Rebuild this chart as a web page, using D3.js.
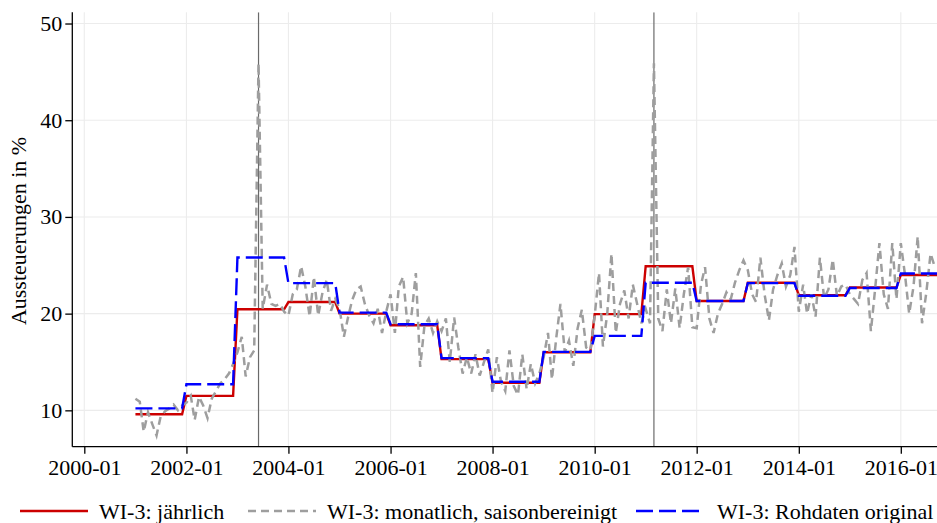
<!DOCTYPE html>
<html><head><meta charset="utf-8">
<script src="https://cdn.jsdelivr.net/npm/d3@7"></script>
<style>
body{margin:0;background:#fff}
svg{display:block}
</style>
</head><body>
<svg id="c" width="937" height="523"></svg>
<script>
// ---------- data ----------
const years = [2001,2002,2003,2004,2005,2006,2007,2008,2009,2010,2011,2012,2013,2014,2015,2016];
const annualValues = [9.6,11.5,20.45,21.2,20.0,18.8,15.3,12.85,16.0,19.95,24.9,21.3,23.2,21.9,22.7,24.0];
const rawValues    = [10.2,12.7,25.8,23.15,20.1,18.9,15.4,12.95,16.05,17.7,23.2,21.3,23.15,21.85,22.65,24.15];
const monthlyStart = [2001, 0]; // January 2001
const monthlyValues = [
  // 2001
  11.2,10.9,7.8,9.8,8.6,7.4,9.4,9.9,10.2,10.6,10.0,10.5,
  // 2002
  10.8,11.5,9.0,11.4,10.5,9.2,11.2,12.0,12.8,13.2,13.8,14.8,
  // 2003
  16.0,17.6,13.5,15.5,16.2,45.9,20.5,23.0,21.0,20.8,21.0,20.2,
  // 2004
  19.8,22.0,22.5,24.9,22.8,19.7,23.8,19.8,22.2,23.5,20.3,21.5,
  // 2005
  20.5,17.6,19.5,21.4,22.5,22.8,21.0,19.8,19.0,20.5,18.0,20.2,
  // 2006
  22.0,18.0,22.8,23.8,19.0,20.0,24.2,14.5,18.8,19.5,18.0,19.2,
  // 2007
  18.2,19.5,15.0,19.6,16.5,13.8,15.5,13.8,15.8,13.6,15.0,16.3,
  // 2008
  11.8,15.5,13.0,12.0,16.2,12.5,11.6,15.8,12.2,14.8,12.8,13.8,
  // 2009
  15.5,18.0,13.2,17.5,21.0,16.0,17.2,14.6,18.5,20.4,16.5,16.2,
  // 2010
  19.8,24.2,16.6,20.0,26.2,18.0,21.0,22.4,19.5,23.0,21.0,19.0,
  // 2011
  20.5,19.0,45.9,19.5,18.2,22.5,19.0,22.6,18.5,22.0,24.8,18.6,
  // 2012
  18.5,23.0,24.8,19.5,18.0,20.0,21.0,22.2,21.5,23.2,24.5,25.5,
  // 2013
  24.5,22.0,21.2,25.8,22.0,19.3,22.5,24.0,25.2,22.8,24.0,26.9,
  // 2014
  20.2,23.0,20.0,22.0,19.7,25.8,21.6,22.5,25.6,21.8,22.8,23.0,
  // 2015
  22.0,21.5,21.0,23.5,24.2,18.2,22.5,27.3,22.0,20.5,27.3,21.5,
  // 2016
  27.3,23.9,20.0,22.8,28.0,19.0,22.1,26.2,24.8
];
const breakMonths = [[2003,5],[2011,2]]; // June 2003, March 2011
const yTicks = [10,20,30,40,50];
const xTickYears = [2000,2002,2004,2006,2008,2010,2012,2014,2016];
const xTickLabels = ["2000-01","2002-01","2004-01","2006-01","2008-01","2010-01","2012-01","2014-01","2016-01"];
const legendLabels = ["WI-3: jährlich","WI-3: monatlich, saisonbereinigt","WI-3: Rohdaten original"];
const yTitle = "Aussteuerungen in %";

// ---------- layout ----------
const FONT = "Liberation Serif";
const FS = 22;
const plotL = 72.3, plotR = 937, plotT = 12.3, plotB = 446.7;
const svg = d3.select("#c");

const x = d3.scaleTime()
  .domain([new Date(2000,0,1), new Date(2016,0,1)])
  .range([84.3, 900.8]);
const y = d3.scaleLinear().domain([6.24, 51.16]).range([plotB, plotT]);

svg.append("defs").append("clipPath").attr("id","clip")
  .append("rect").attr("x",plotL).attr("y",plotT).attr("width",plotR-plotL).attr("height",plotB-plotT);

// grid
const grid = svg.append("g");
grid.selectAll("line.gy").data(yTicks).join("line")
  .attr("x1",plotL).attr("x2",plotR).attr("y1",d=>y(d)).attr("y2",d=>y(d))
  .attr("stroke","#ececec").attr("stroke-width",1.1);
grid.selectAll("line.gx").data(xTickYears).join("line")
  .attr("y1",plotT).attr("y2",plotB).attr("x1",d=>x(new Date(d,0,1))).attr("x2",d=>x(new Date(d,0,1)))
  .attr("stroke","#ececec").attr("stroke-width",1.1);

const plot = svg.append("g").attr("clip-path","url(#clip)");

// break lines
plot.selectAll("line.brk").data(breakMonths).join("line")
  .attr("x1",d=>x(new Date(d[0],d[1],1))).attr("x2",d=>x(new Date(d[0],d[1],1)))
  .attr("y1",plotT).attr("y2",plotB)
  .attr("stroke","#6a6a6a").attr("stroke-width",1.2);

function stepPoints(vals){
  const pts = [];
  years.forEach((yr,i)=>{
    pts.push([new Date(yr,0,1), vals[i]]);
    pts.push([new Date(yr,11,1), vals[i]]);
  });
  return pts;
}
const line = d3.line().x(d=>x(d[0])).y(d=>y(d[1]));
const monthlyPts = monthlyValues.map((v,i)=>[new Date(monthlyStart[0], monthlyStart[1]+i, 1), v]);

plot.append("path").datum(stepPoints(annualValues)).attr("d",line)
  .attr("fill","none").attr("stroke","#cc0000").attr("stroke-width",2.4);
plot.append("path").datum(monthlyPts).attr("d",line)
  .attr("fill","none").attr("stroke","#9e9e9e").attr("stroke-width",2.5)
  .attr("stroke-dasharray","8,5");
plot.append("path").datum(stepPoints(rawValues)).attr("d",line)
  .attr("fill","none").attr("stroke","#0000ff").attr("stroke-width",2.4)
  .attr("stroke-dasharray","17,6");

// axes
const yAxis = d3.axisLeft(y).tickValues(yTicks).tickSize(7).tickPadding(3).tickFormat(d3.format("d"));
const gy = svg.append("g").attr("transform",`translate(${plotL},0)`).call(yAxis)
  .attr("font-family",FONT).attr("font-size",FS);
gy.select(".domain").attr("d",`M0,${plotT}V${plotB}`).attr("stroke","#000").attr("stroke-width",1.3);
gy.selectAll(".tick line").attr("stroke","#000").attr("stroke-width",1.3);
gy.selectAll(".tick text").attr("font-family",FONT).attr("font-size",FS).attr("fill","#000");

const xAxis = d3.axisBottom(x).tickValues(xTickYears.map(d=>new Date(d,0,1)))
  .tickSize(7).tickPadding(6).tickFormat((d,i)=>xTickLabels[i]);
const gx = svg.append("g").attr("transform",`translate(0,${plotB})`).call(xAxis)
  .attr("font-family",FONT).attr("font-size",FS);
gx.select(".domain").attr("d",`M${plotL},0H${plotR}`).attr("stroke","#000").attr("stroke-width",1.3);
gx.selectAll(".tick line").attr("stroke","#000").attr("stroke-width",1.3);
gx.selectAll(".tick text").attr("font-family",FONT).attr("font-size",FS).attr("fill","#000");

// y title
svg.append("text").attr("transform","translate(26,231) rotate(-90)")
  .attr("text-anchor","middle").attr("font-family",FONT).attr("font-size",FS).attr("fill","#000").text(yTitle);

// legend
const legendY = 511;
const legendItems = [
  {x0:20, tx:99, color:"#cc0000", dash:null, w:2.4},
  {x0:248, tx:327, color:"#9e9e9e", dash:"8,5", w:2.5},
  {x0:636, tx:717, color:"#0000ff", dash:"17,6", w:2.4}
];
const lg = svg.append("g");
legendItems.forEach((it,i)=>{
  lg.append("line").attr("x1",it.x0).attr("x2",it.x0+68).attr("y1",legendY).attr("y2",legendY)
    .attr("stroke",it.color).attr("stroke-width",it.w).attr("stroke-dasharray",it.dash);
  lg.append("text").attr("x",it.tx).attr("y",legendY+7.5)
    .attr("font-family",FONT).attr("font-size",FS).attr("fill","#000").text(legendLabels[i]);
});
</script>
</body></html>
